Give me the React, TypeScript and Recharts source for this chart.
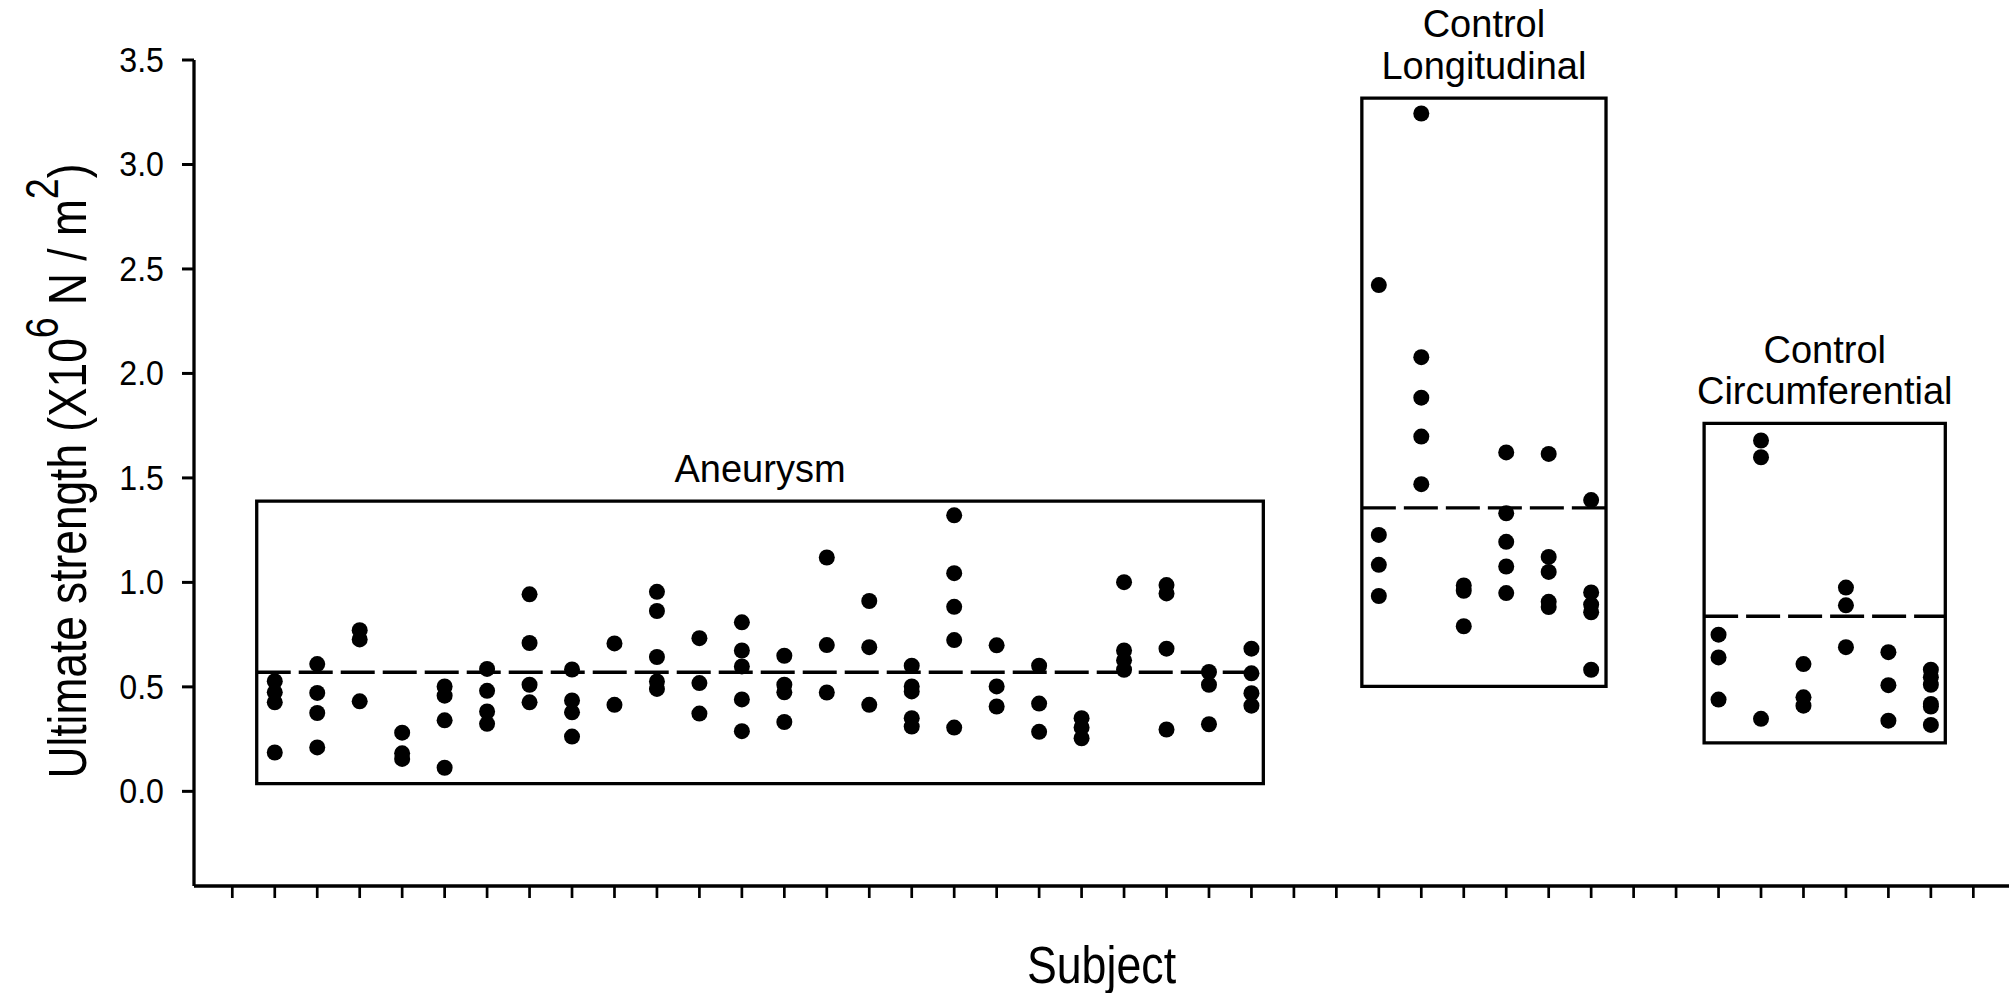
import { ScatterChart, Scatter, XAxis, YAxis, ReferenceArea, ReferenceLine } from 'recharts';

// ultimate strength per subject (x10^6 N/m^2), one inner list per subject
const aneurysm = [
  [0.527, 0.474, 0.426, 0.186],
  [0.609, 0.471, 0.375, 0.21],
  [0.771, 0.727, 0.431],
  [0.281, 0.182, 0.155],
  [0.502, 0.458, 0.34, 0.113],
  [0.586, 0.481, 0.382, 0.323],
  [0.943, 0.71, 0.51, 0.426],
  [0.583, 0.435, 0.378, 0.262],
  [0.708, 0.414],
  [0.955, 0.863, 0.643, 0.526, 0.49],
  [0.733, 0.518, 0.372],
  [0.809, 0.674, 0.598, 0.44, 0.288],
  [0.649, 0.51, 0.474, 0.332],
  [1.119, 0.7, 0.473],
  [0.911, 0.69, 0.414],
  [0.601, 0.502, 0.478, 0.35, 0.31],
  [1.321, 1.044, 0.883, 0.724, 0.305],
  [0.699, 0.502, 0.406],
  [0.601, 0.42, 0.285],
  [0.35, 0.306, 0.254],
  [1.001, 0.674, 0.627, 0.582],
  [0.987, 0.947, 0.683, 0.296],
  [0.571, 0.51, 0.321],
  [0.683, 0.565, 0.47, 0.41],
];

const controlLongitudinal = [
  [2.423, 1.227, 1.084, 0.935],
  [3.244, 2.078, 1.884, 1.698, 1.47],
  [0.985, 0.96, 0.79],
  [1.622, 1.331, 1.194, 1.076, 0.949],
  [1.615, 1.122, 1.05, 0.907, 0.882],
  [1.394, 0.952, 0.894, 0.857, 0.582],
];

const controlCircumferential = [
  [0.75, 0.641, 0.439],
  [1.679, 1.599, 0.347],
  [0.609, 0.45, 0.41],
  [0.975, 0.89, 0.69],
  [0.666, 0.508, 0.338],
  [0.582, 0.546, 0.51, 0.418, 0.406, 0.318],
];

const groups = [aneurysm, controlLongitudinal, controlCircumferential];
const groupNames = [['Aneurysm'], ['Control', 'Longitudinal'], ['Control', 'Circumferential']];
const groupFirstSubject = [2, 28, 36];
const groupMeans = [0.57, 1.357, 0.838];
const groupBoxX = [[1.575, 25.28], [27.6, 33.35], [35.66, 41.34]];
const groupBoxY = [[0.037, 1.389], [0.502, 3.318], [0.232, 1.761]];

const xTicks = Array.from({ length: 42 }, (_, i) => i + 1);
const yTicks = [0, 0.5, 1, 1.5, 2, 2.5, 3, 3.5];

const SANS = "'Liberation Sans', Arial, sans-serif";
const NARROW_X = 0.82; // horizontal squeeze to mimic the narrow axis font

const Dot = (props: any) => <circle cx={props.cx} cy={props.cy} r={8} fill="#000" />;

const YTick = (props: any) => {
  const { x, y, payload } = props;
  return (
    <text
      transform={`translate(${x}, ${y}) scale(0.92, 1)`}
      textAnchor="end"
      dy="0.34em"
      fontFamily={SANS}
      fontSize={35}
      fill="#000"
    >
      {Number(payload.value).toFixed(1)}
    </text>
  );
};

const GroupLabel = (props: any) => {
  const { viewBox, lines } = props;
  if (!viewBox) return null;
  const cx = viewBox.x + viewBox.width / 2;
  const base = viewBox.y - 19;
  return (
    <text textAnchor="middle" fontFamily={SANS} fontSize={38} fill="#000">
      {lines.map((l: string, i: number) => (
        <tspan key={i} x={cx} y={base - (lines.length - 1 - i) * 41.6}>{l}</tspan>
      ))}
    </text>
  );
};

const YTitle = (props: any) => {
  const { viewBox } = props;
  if (!viewBox) return null;
  const x = viewBox.x + viewBox.width - 108;
  const y = viewBox.y + viewBox.height / 2 - 2;
  return (
    <text
      transform={`translate(${x}, ${y}) rotate(-90) scale(${NARROW_X}, 1)`}
      textAnchor="middle"
      fontFamily={SANS}
      fontSize={54}
      fill="#000"
    >
      <tspan>Ultimate strength (X10</tspan>
      <tspan dy={-28} fontSize={46}>6</tspan>
      <tspan dy={28}> N / m</tspan>
      <tspan dy={-28} fontSize={46}>2</tspan>
      <tspan dy={28}>)</tspan>
    </text>
  );
};

const XTitle = (props: any) => {
  const { viewBox } = props;
  if (!viewBox) return null;
  const x = viewBox.x + viewBox.width / 2;
  const y = viewBox.y + 97;
  return (
    <text
      transform={`translate(${x}, ${y}) scale(0.86, 1)`}
      textAnchor="middle"
      fontFamily={SANS}
      fontSize={52}
      fill="#000"
    >
      Subject
    </text>
  );
};

export default function App() {
  const series = groups.map((g, gi) =>
    g.flatMap((vals, i) => vals.map((v) => ({ x: groupFirstSubject[gi] + i, y: v })))
  );

  return (
    <div style={{ position: 'absolute', left: 0, top: 0, width: 2009, height: 993, background: '#fff' }}>
      <ScatterChart width={2009} height={993} margin={{ top: 60, right: 0, bottom: 77, left: 44 }}>
        <XAxis
          type="number"
          dataKey="x"
          domain={[0.098, 42.84]}
          ticks={xTicks}
          interval={0}
          tick={() => <g />}
          tickSize={12}
          height={30}
          axisLine={{ stroke: '#000', strokeWidth: 3.3 }}
          tickLine={{ stroke: '#000', strokeWidth: 2.7 }}
          label={<XTitle />}
        />
        <YAxis
          type="number"
          dataKey="y"
          domain={[-0.453, 3.5]}
          ticks={yTicks}
          interval={0}
          width={150}
          tickSize={12}
          tickMargin={18}
          tick={<YTick />}
          axisLine={{ stroke: '#000', strokeWidth: 3.3 }}
          tickLine={{ stroke: '#000', strokeWidth: 3 }}
          label={<YTitle />}
        />
        {groupBoxX.map((bx, i) => (
          <ReferenceArea
            key={`box-${i}`}
            x1={bx[0]}
            x2={bx[1]}
            y1={groupBoxY[i][0]}
            y2={groupBoxY[i][1]}
            fill="none"
            fillOpacity={0}
            stroke="#000"
            strokeWidth={3.3}
            label={<GroupLabel lines={groupNames[i]} />}
          />
        ))}
        {groupMeans.map((m, i) => (
          <ReferenceLine
            key={`mean-${i}`}
            segment={[
              { x: groupBoxX[i][0], y: m },
              { x: groupBoxX[i][1], y: m },
            ]}
            stroke="#000"
            strokeWidth={3.3}
            strokeDasharray="34 8"
          />
        ))}
        {series.map((s, i) => (
          <Scatter key={`s-${i}`} data={s} shape={Dot} isAnimationActive={false} />
        ))}
      </ScatterChart>
    </div>
  );
}
